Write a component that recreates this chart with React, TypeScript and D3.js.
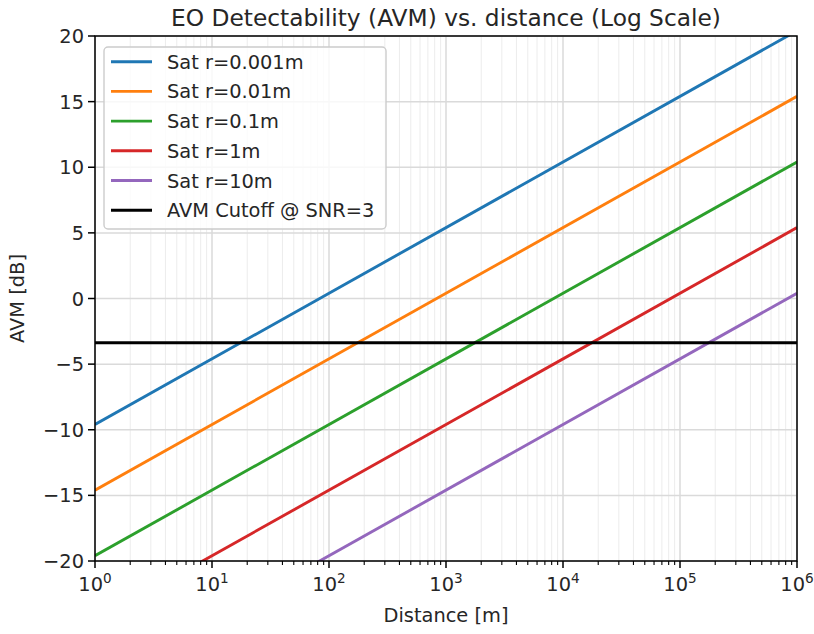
import React from "react";
import * as d3 from "d3";

const distances = [1, 1e6];
const seriesNames = ["Sat r=0.001m", "Sat r=0.01m", "Sat r=0.1m", "Sat r=1m", "Sat r=10m"];
const seriesColors = ["#1f77b4", "#ff7f0e", "#2ca02c", "#d62728", "#9467bd"];
const avmR0001 = [-9.6, 20.4];
const avmR001 = [-14.6, 15.4];
const avmR01 = [-19.6, 10.4];
const avmR1 = [-24.6, 5.4];
const avmR10 = [-29.6, 0.4];
const seriesValues = [avmR0001, avmR001, avmR01, avmR1, avmR10];
const cutoffLabel = "AVM Cutoff @ SNR=3";
const cutoffValue = -3.37;
const yTicks = [-20, -15, -10, -5, 0, 5, 10, 15, 20];
const xExponents = [0, 1, 2, 3, 4, 5, 6];

const W = 814, H = 634;
const L = 95, R = 797, T = 36, B = 561;
const FONT = "DejaVu Sans, sans-serif";
const FS = 19.4;

export default function App() {
  const x = d3.scaleLog().domain([1, 1e6]).range([L, R]);
  const y = d3.scaleLinear().domain([-20, 20]).range([B, T]);
  const line = d3.line<[number, number]>().x(d => x(d[0])).y(d => y(d[1]));

  const minor: number[] = [];
  for (let e = 0; e < 6; e++) for (let k = 2; k <= 9; k++) minor.push(k * Math.pow(10, e));

  const legendItems = [
    ...seriesNames.map((n, i) => ({ name: n, color: seriesColors[i] })),
    { name: cutoffLabel, color: "#000000" },
  ];

  return (
    <svg width={W} height={H} style={{ position: "fixed", left: 0, top: 0, background: "#fff" }} fontFamily={FONT}>
      <defs>
        <clipPath id="plot">
          <rect x={L} y={T} width={R - L} height={B - T} />
        </clipPath>
      </defs>
      <rect x={0} y={0} width={W} height={H} fill="#fff" />
      {/* minor grid */}
      {minor.map((v, i) => (
        <line key={"mg" + i} x1={x(v)} x2={x(v)} y1={T} y2={B} stroke="#ececec" strokeWidth={1} />
      ))}
      {/* major grid */}
      {xExponents.map(e => (
        <line key={"xg" + e} x1={x(Math.pow(10, e))} x2={x(Math.pow(10, e))} y1={T} y2={B} stroke="#dadada" strokeWidth={1.5} />
      ))}
      {yTicks.map(v => (
        <line key={"yg" + v} x1={L} x2={R} y1={y(v)} y2={y(v)} stroke="#dadada" strokeWidth={1.5} />
      ))}
      {/* series */}
      <g clipPath="url(#plot)">
        {seriesValues.map((vals, i) => (
          <path key={"s" + i} d={line(distances.map((d, j) => [d, vals[j]]) as [number, number][]) || ""}
            fill="none" stroke={seriesColors[i]} strokeWidth={2.9} />
        ))}
        <line x1={L} x2={R} y1={y(cutoffValue)} y2={y(cutoffValue)} stroke="#000" strokeWidth={2.9} />
      </g>
      {/* frame */}
      <rect x={L} y={T} width={R - L} height={B - T} fill="none" stroke="#000" strokeWidth={1.5} />
      {/* x ticks */}
      {minor.map((v, i) => (
        <line key={"mt" + i} x1={x(v)} x2={x(v)} y1={B} y2={B + 4} stroke="#000" strokeWidth={1.1} />
      ))}
      {xExponents.map(e => {
        const px = x(Math.pow(10, e));
        return (
          <g key={"xt" + e}>
            <line x1={px} x2={px} y1={B} y2={B + 7} stroke="#000" strokeWidth={1.5} />
            <text x={px} y={591} textAnchor="middle" fontSize={FS} fill="#262626">
              10<tspan fontSize={13.6} dy={-8}>{e}</tspan>
            </text>
          </g>
        );
      })}
      {/* y ticks */}
      {yTicks.map(v => (
        <g key={"yt" + v}>
          <line x1={L - 7} x2={L} y1={y(v)} y2={y(v)} stroke="#000" strokeWidth={1.5} />
          <text x={L - 11} y={y(v) + 7} textAnchor="end" fontSize={FS} fill="#262626">
            {v < 0 ? "\u2212" + Math.abs(v) : String(v)}
          </text>
        </g>
      ))}
      {/* labels */}
      <text x={(L + R) / 2} y={622} textAnchor="middle" fontSize={FS} fill="#262626">Distance [m]</text>
      <text transform={`translate(24, ${(T + B) / 2}) rotate(-90)`} textAnchor="middle" fontSize={FS} fill="#262626">AVM [dB]</text>
      <text x={(L + R) / 2} y={26} textAnchor="middle" fontSize={23.3} fill="#262626">EO Detectability (AVM) vs. distance (Log Scale)</text>
      {/* legend */}
      <rect x={104} y={47} width={282} height={182} rx={4} fill="#fff" fillOpacity={0.8} stroke="#cccccc" strokeWidth={1.4} />
      {legendItems.map((it, i) => {
        const cy = 61.7 + i * 29.7;
        return (
          <g key={"lg" + i}>
            <line x1={111} x2={152} y1={cy} y2={cy} stroke={it.color} strokeWidth={2.9} />
            <text x={167} y={cy + 7} fontSize={FS} fill="#262626">{it.name}</text>
          </g>
        );
      })}
    </svg>
  );
}
